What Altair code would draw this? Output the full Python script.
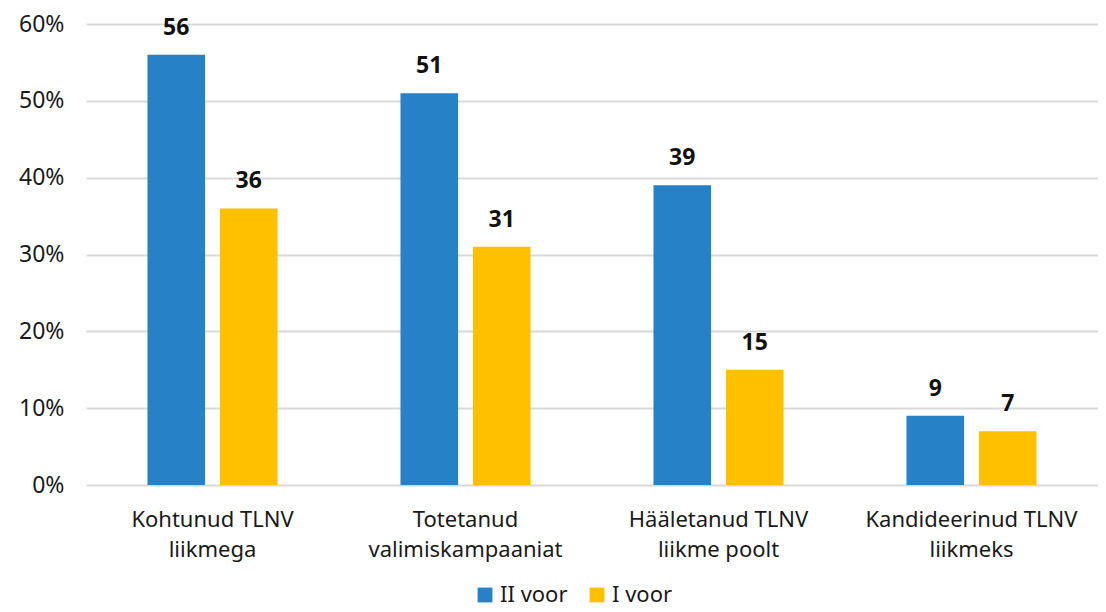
import altair as alt
import pandas as pd

categories = ["Kohtunud TLNV|liikmega", "Totetanud|valimiskampaaniat",
              "Hääletanud TLNV|liikme poolt", "Kandideerinud TLNV|liikmeks"]
series = ["II voor", "I voor"]
values_ii = [56, 51, 39, 9]
values_i = [36, 31, 15, 7]

rows = []
for c, a, b in zip(categories, values_ii, values_i):
    rows.append({"cat": c, "series": "II voor", "value": a})
    rows.append({"cat": c, "series": "I voor", "value": b})
df = pd.DataFrame(rows)

FONT = "Noto Sans"
colors = ["#2781C6", "#FFC000"]

x = alt.X("cat:N", sort=categories, title=None,
          scale=alt.Scale(paddingInner=0.486, paddingOuter=0.243),
          axis=alt.Axis(labelAngle=0, labelExpr="split(datum.label, '|')",
                        labelFontSize=22, labelFont=FONT, labelColor="#1a1a1a",
                        labelLineHeight=30, labelPadding=24, ticks=False,
                        labelLimit=400,
                        domain=False, grid=False, labelBaseline="top"))
xo = alt.XOffset("series:N", sort=series,
                 scale=alt.Scale(paddingInner=0.205, paddingOuter=0))
y = alt.Y("value:Q", title=None,
          scale=alt.Scale(domain=[0, 60], nice=False),
          axis=alt.Axis(values=[0, 10, 20, 30, 40, 50, 60],
                        labelExpr="datum.value + '%'",
                        labelFontSize=23, labelFont=FONT, labelColor="#1a1a1a",
                        labelPadding=22, ticks=False, domain=False,
                        gridColor="#d9d9d9", gridWidth=2))

base = alt.Chart(df).encode(x=x, xOffset=xo)

bars = base.mark_bar().encode(
    y=y,
    color=alt.Color("series:N", sort=series,
                    scale=alt.Scale(domain=series, range=colors),
                    legend=alt.Legend(title=None, orient="none", direction="horizontal",
                                      legendX=388, legendY=560,
                                      labelFont=FONT, labelFontSize=22,
                                      labelColor="#1a1a1a",
                                      symbolType="square", symbolSize=220,
                                      symbolStrokeWidth=0, columnPadding=18,
                                      labelOffset=4)))

labels = base.mark_text(baseline="bottom", dy=-15, font=FONT, fontSize=23,
                        fontWeight="bold", color="#111111").encode(
    y="value:Q", text="value:Q")

chart = (bars + labels).properties(
    width=1012, height=461,
    autosize=alt.AutoSizeParams(type="none"),
    padding={"left": 78, "top": 16, "right": 0, "bottom": 140},
).configure_view(stroke=None)

chart.save("out.html", embed_options={"renderer": "svg", "actions": False})
